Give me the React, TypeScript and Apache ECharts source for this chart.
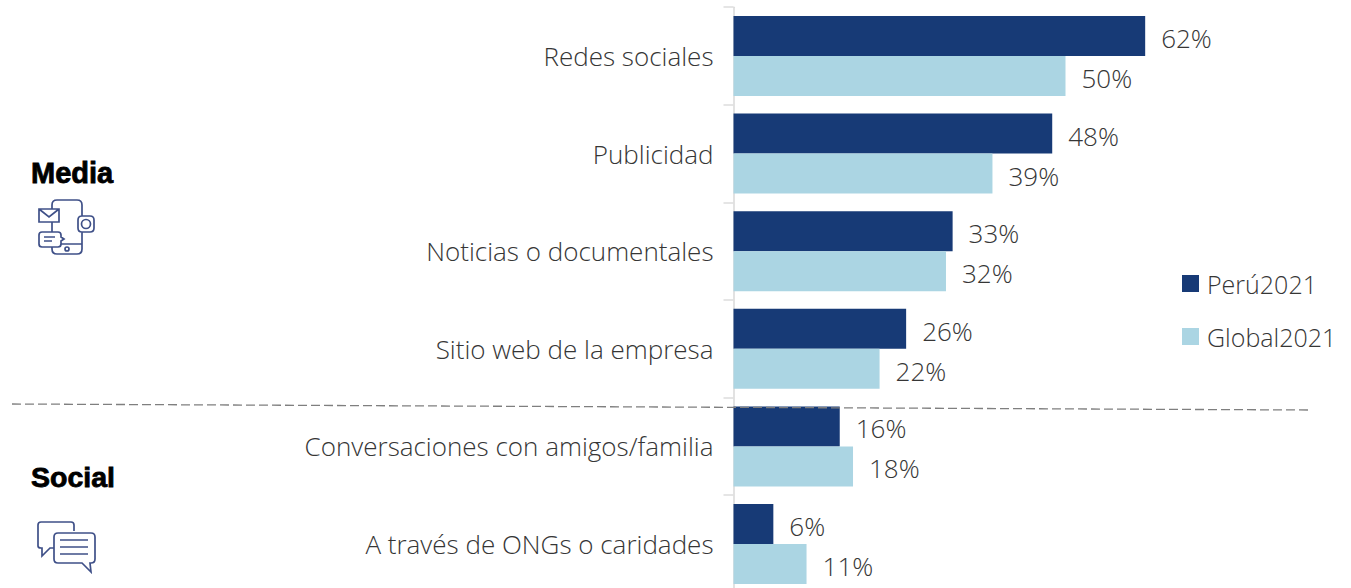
import React, { useEffect, useRef } from "react";
import * as echarts from "echarts";

const categories = [
  "Redes sociales",
  "Publicidad",
  "Noticias o documentales",
  "Sitio web de la empresa",
  "Conversaciones con amigos/familia",
  "A través de ONGs o caridades",
];
const peru2021 = [62, 48, 33, 26, 16, 6];
const global2021 = [50, 39, 32, 22, 18, 11];

const FONT = "'Open Sans'";
const TEXT = "#363636";
const NAVY = "#173A76";
const LIGHT = "#ABD5E3";
const ICON = "#3F5088";

const mediaIcon =
  "M52 209V205Q52 200 57 200H77Q82 200 82 205V216M82 232V249Q82 254 77 254H57Q52 254 52 249V247M52 232V222" +
  "M39 209H59V222H39ZM39 209L49 217L59 209" +
  "M42 232H58Q61 232 61 235V237L64 239L61 241V244Q61 247 58 247H42Q39 247 39 244V235Q39 232 42 232Z" +
  "M44 237H55M44 241H52M61 244H82" +
  "M82 216H90Q94 216 94 220V228Q94 232 90 232H82Q78 232 78 228V220Q78 216 82 216Z" +
  "M90.5 224A4.5 4.5 0 1 1 81.5 224A4.5 4.5 0 1 1 90.5 224Z" +
  "M69 249A2 2 0 1 1 65 249A2 2 0 1 1 69 249Z";

const socialIcon =
  "M74 531V525Q74 522 71 522H41Q38 522 38 525V546Q38 548 41 548H42V556L50 548H54" +
  "M58 533H91Q95 533 95 537V559Q95 563 91 563H90L91 572L82 563H58Q54 563 54 559V537Q54 533 58 533Z" +
  "M60 540H88M60 547H88M60 554H88";

echarts.graphic.registerShape("mediaIcon", echarts.graphic.extendPath(mediaIcon, {}));
echarts.graphic.registerShape("socialIcon", echarts.graphic.extendPath(socialIcon, {}));

export default function App() {
  const ref = useRef<HTMLDivElement>(null);
  useEffect(() => {
    document.body.style.margin = "0";
    document.body.style.overflow = "hidden";
    const chart = echarts.init(ref.current!, undefined, { renderer: "svg" });
    const label = {
      show: true,
      position: "right" as const,
      distance: 16,
      offset: [0, 2],
      color: TEXT,
      fontFamily: FONT,
      fontWeight: 300,
      fontSize: 26,
      formatter: "{c}%",
    };
    chart.setOption({
      animation: false,
      backgroundColor: "#fff",
      grid: { left: 733.5, top: 7.2, width: 664, height: 585.6, outerBoundsMode: "none", containLabel: false },
      legend: {
        orient: "vertical",
        left: 1182,
        top: 271,
        padding: 0,
        icon: "rect",
        itemWidth: 17,
        itemHeight: 17,
        itemGap: 28,
        textStyle: { color: TEXT, fontFamily: FONT, fontWeight: 300, fontSize: 25, padding: [0, 0, 0, 3] },
        data: ["Perú2021", "Global2021"],
      },
      xAxis: { type: "value", min: 0, max: 100, show: false },
      yAxis: {
        type: "category",
        inverse: true,
        data: categories,
        axisLine: { lineStyle: { color: "#D9D9D9", width: 1.5 } },
        axisTick: { show: true, length: 10, lineStyle: { color: "#DDDDDD", width: 1.5 } },
        axisLabel: { margin: 20, color: TEXT, fontFamily: FONT, fontWeight: 300, fontSize: 26 },
      },
      series: [
        { name: "Perú2021", type: "bar", data: peru2021, barWidth: 40, barGap: "0%", itemStyle: { color: NAVY }, label },
        { name: "Global2021", type: "bar", data: global2021, barWidth: 40, barGap: "0%", itemStyle: { color: LIGHT }, label },
      ],
      graphic: [
        {
          type: "line",
          shape: { x1: 12, y1: 404, x2: 1308, y2: 410 },
          style: { stroke: "#7F7F7F", lineWidth: 1.3, lineDash: [9, 4] },
          z: 10,
        },
        {
          type: "text",
          x: 31,
          y: 158,
          style: { text: "Media", fontFamily: "'Liberation Sans'", fontWeight: "bold", fontSize: 29, fill: "#000", stroke: "#000", lineWidth: 0.8 },
        },
        {
          type: "text",
          x: 31,
          y: 462,
          style: { text: "Social", fontFamily: "'Liberation Sans'", fontWeight: "bold", fontSize: 28.5, fill: "#000", stroke: "#000", lineWidth: 0.8 },
        },
        { type: "mediaIcon", x: 0, y: 0, style: { fill: "none", stroke: ICON, lineWidth: 1.7 } },
        { type: "socialIcon", x: 0, y: 0, style: { fill: "none", stroke: ICON, lineWidth: 1.7 } },
      ],
    });
    return () => chart.dispose();
  }, []);
  return <div ref={ref} style={{ width: 1351, height: 588 }} />;
}
